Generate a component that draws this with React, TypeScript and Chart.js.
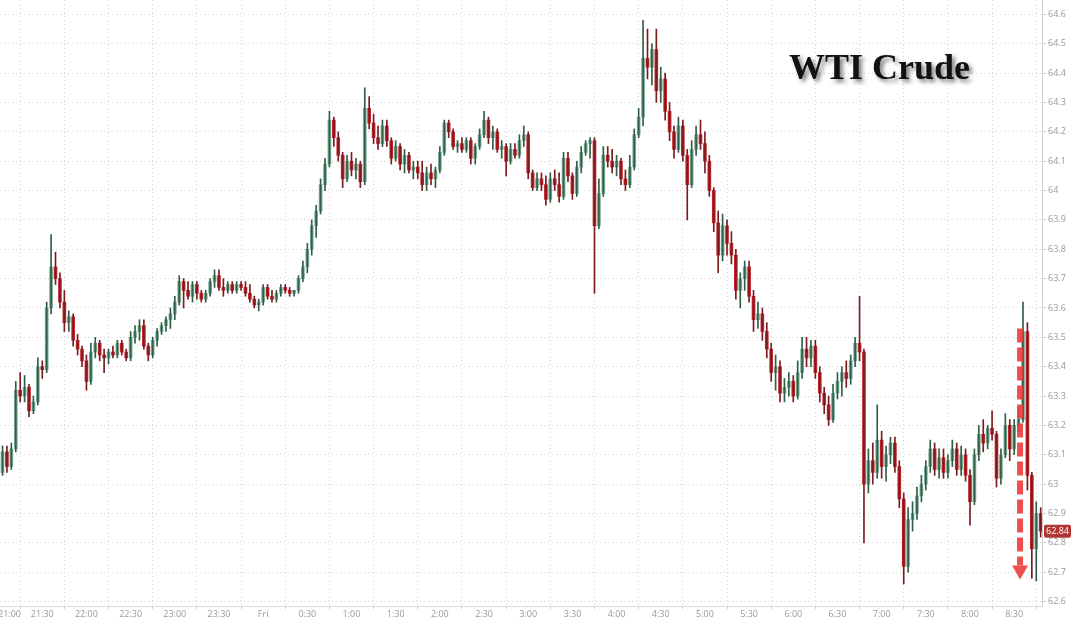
import React, { useEffect, useRef } from 'react';
import { Chart, registerables } from 'chart.js';

Chart.register(...registerables);

// ---- Data (3-minute candles starting 21:00) ----
const START_MINUTE = 0; // 21:00
const BAR_MINUTES = 3;

const OPEN = [
  63.06, 63.04, 63.11, 63.06, 63.12, 63.32, 63.30, 63.33, 63.25, 63.28,
  63.40, 63.39, 63.60, 63.74, 63.70, 63.62, 63.55, 63.57, 63.49, 63.46,
  63.42, 63.35, 63.45, 63.48, 63.44, 63.43, 63.45, 63.44, 63.48, 63.45,
  63.43, 63.50, 63.52, 63.54, 63.47, 63.44, 63.49, 63.52, 63.54, 63.56,
  63.58, 63.62, 63.69, 63.66, 63.64, 63.68, 63.65, 63.63, 63.65, 63.69,
  63.71, 63.67, 63.66, 63.68, 63.66, 63.68, 63.67, 63.65, 63.63, 63.61,
  63.62, 63.67, 63.64, 63.63, 63.65, 63.67, 63.66, 63.65, 63.66, 63.70,
  63.74, 63.80, 63.88, 63.93, 64.02, 64.09, 64.24, 64.18, 64.12, 64.04,
  64.10, 64.07, 64.09, 64.03, 64.28, 64.23, 64.18, 64.16, 64.22, 64.17,
  64.11, 64.15, 64.09, 64.12, 64.07, 64.08, 64.06, 64.02, 64.06, 64.04,
  64.07, 64.13, 64.23, 64.20, 64.15, 64.16, 64.14, 64.17, 64.11, 64.15,
  64.19, 64.24, 64.18, 64.20, 64.14, 64.15, 64.10, 64.14, 64.12, 64.17,
  64.19, 64.06, 64.01, 64.04, 64.02, 63.97, 64.04, 64.02, 63.98, 64.11,
  64.05, 63.99, 64.08, 64.13, 64.16, 64.17, 63.88, 63.99, 64.12, 64.10,
  64.08, 64.10, 64.04, 64.02, 64.08, 64.19, 64.25, 64.45, 64.42, 64.48,
  64.34, 64.38, 64.27, 64.20, 64.14, 64.22, 64.12, 64.02, 64.14, 64.19,
  64.16, 64.10, 64.00, 63.89, 63.78, 63.88, 63.82, 63.78, 63.66, 63.70,
  63.74, 63.64, 63.56, 63.58, 63.52, 63.46, 63.38, 63.40, 63.31, 63.33,
  63.35, 63.30, 63.38, 63.46, 63.43, 63.47, 63.38, 63.31, 63.27, 63.22,
  63.31, 63.35, 63.38, 63.36, 63.42, 63.48, 63.45, 63.00, 63.08, 63.04,
  63.15, 63.06, 63.10, 63.14, 63.06, 62.95, 62.72, 62.88, 62.90, 62.96,
  63.00, 63.06, 63.12, 63.05, 63.09, 63.04, 63.08, 63.12, 63.05, 63.10,
  63.03, 62.94, 63.10, 63.17, 63.14, 63.19, 63.17, 63.02, 63.10, 63.20,
  63.12, 63.20, 63.22, 63.52, 63.03, 62.78, 62.90,
];

const HIGH = [
  63.10, 63.13, 63.13, 63.14, 63.35, 63.38, 63.37, 63.34, 63.30, 63.43,
  63.42, 63.62, 63.85, 63.79, 63.72, 63.66, 63.59, 63.58, 63.51, 63.47,
  63.44, 63.48, 63.50, 63.49, 63.46, 63.46, 63.47, 63.49, 63.49, 63.46,
  63.52, 63.54, 63.56, 63.56, 63.48, 63.50, 63.53, 63.55, 63.57, 63.60,
  63.64, 63.71, 63.70, 63.69, 63.69, 63.69, 63.66, 63.66, 63.70, 63.73,
  63.73, 63.70, 63.69, 63.69, 63.69, 63.69, 63.69, 63.68, 63.64, 63.63,
  63.68, 63.68, 63.66, 63.66, 63.68, 63.68, 63.67, 63.66, 63.71, 63.76,
  63.82, 63.90, 63.95, 64.04, 64.11, 64.27, 64.25, 64.20, 64.13, 64.12,
  64.13, 64.11, 64.10, 64.35, 64.32, 64.26, 64.22, 64.24, 64.24, 64.18,
  64.17, 64.16, 64.14, 64.13, 64.10, 64.10, 64.10, 64.08, 64.09, 64.08,
  64.15, 64.24, 64.24, 64.21, 64.17, 64.18, 64.18, 64.18, 64.16, 64.21,
  64.27, 64.25, 64.22, 64.21, 64.17, 64.16, 64.16, 64.16, 64.19, 64.22,
  64.20, 64.07, 64.06, 64.06, 64.05, 64.06, 64.07, 64.06, 64.13, 64.13,
  64.06, 64.10, 64.15, 64.17, 64.18, 64.18, 64.04, 64.15, 64.15, 64.14,
  64.12, 64.11, 64.07, 64.12, 64.21, 64.28, 64.58, 64.55, 64.50, 64.55,
  64.42, 64.40, 64.30, 64.22, 64.25, 64.24, 64.14, 64.17, 64.22, 64.24,
  64.20, 64.12, 64.01, 63.93, 63.92, 63.90, 63.86, 63.80, 63.72, 63.76,
  63.76, 63.66, 63.62, 63.60, 63.55, 63.48, 63.44, 63.42, 63.36, 63.38,
  63.37, 63.42, 63.50, 63.50, 63.49, 63.49, 63.40, 63.33, 63.30, 63.34,
  63.38, 63.40, 63.42, 63.44, 63.50, 63.64, 63.46, 63.12, 63.14, 63.27,
  63.18, 63.13, 63.16, 63.16, 63.08, 62.97, 62.92, 62.94, 62.99, 63.03,
  63.08, 63.15, 63.14, 63.12, 63.12, 63.10, 63.15, 63.14, 63.13, 63.12,
  63.05, 63.12, 63.20, 63.22, 63.20, 63.25, 63.18, 63.12, 63.24, 63.22,
  63.22, 63.26, 63.62, 63.55, 63.04, 62.94, 62.92,
];

const LOW = [
  63.02, 63.03, 63.04, 63.05, 63.11, 63.28, 63.28, 63.23, 63.24, 63.27,
  63.36, 63.38, 63.58, 63.68, 63.60, 63.52, 63.52, 63.47, 63.44, 63.40,
  63.32, 63.34, 63.43, 63.42, 63.38, 63.41, 63.43, 63.43, 63.44, 63.42,
  63.42, 63.48, 63.49, 63.46, 63.42, 63.43, 63.47, 63.51, 63.52, 63.53,
  63.56, 63.61, 63.60, 63.63, 63.62, 63.63, 63.62, 63.62, 63.64, 63.67,
  63.66, 63.64, 63.65, 63.65, 63.65, 63.66, 63.64, 63.62, 63.60, 63.59,
  63.61, 63.63, 63.62, 63.62, 63.64, 63.65, 63.64, 63.64, 63.65, 63.69,
  63.72, 63.78, 63.84, 63.92, 64.00, 64.08, 64.15, 64.10, 64.01, 64.03,
  64.05, 64.04, 64.01, 64.02, 64.21, 64.16, 64.14, 64.15, 64.15, 64.09,
  64.10, 64.07, 64.06, 64.06, 64.04, 64.04, 64.00, 64.00, 64.02, 64.01,
  64.06, 64.12, 64.18, 64.14, 64.13, 64.13, 64.13, 64.09, 64.09, 64.14,
  64.18, 64.16, 64.14, 64.13, 64.11, 64.05, 64.09, 64.11, 64.11, 64.15,
  64.04, 64.00, 64.00, 64.00, 63.95, 63.96, 64.00, 63.96, 63.97, 64.03,
  63.97, 63.98, 64.06, 64.12, 64.11, 63.65, 63.87, 63.98, 64.08, 64.06,
  64.05, 64.02, 64.00, 64.01, 64.07, 64.18, 64.22, 64.38, 64.36, 64.30,
  64.30, 64.24, 64.17, 64.11, 64.13, 64.10, 63.90, 64.01, 64.12, 64.14,
  64.06, 63.98, 63.86, 63.72, 63.76, 63.78, 63.75, 63.63, 63.60, 63.66,
  63.62, 63.52, 63.53, 63.49, 63.43, 63.35, 63.32, 63.28, 63.28, 63.30,
  63.28, 63.29, 63.36, 63.40, 63.40, 63.36, 63.28, 63.24, 63.20, 63.21,
  63.29, 63.30, 63.33, 63.34, 63.40, 63.42, 62.80, 62.97, 63.00, 63.02,
  63.02, 63.01, 63.07, 63.04, 62.92, 62.66, 62.70, 62.84, 62.88, 62.94,
  62.98, 63.04, 63.03, 63.02, 63.02, 63.02, 63.06, 63.03, 63.03, 63.01,
  62.86, 62.93, 63.08, 63.11, 63.12, 63.15, 62.99, 63.00, 63.09, 63.08,
  63.10, 63.18, 63.21, 62.98, 62.68, 62.67, 62.82,
];

const CLOSE = [
  63.04, 63.11, 63.06, 63.12, 63.32, 63.30, 63.33, 63.25, 63.28, 63.40,
  63.39, 63.60, 63.74, 63.70, 63.62, 63.55, 63.57, 63.49, 63.46, 63.42,
  63.35, 63.45, 63.48, 63.44, 63.43, 63.45, 63.44, 63.48, 63.45, 63.43,
  63.50, 63.52, 63.54, 63.47, 63.44, 63.49, 63.52, 63.54, 63.56, 63.58,
  63.62, 63.69, 63.66, 63.64, 63.68, 63.65, 63.63, 63.65, 63.69, 63.71,
  63.67, 63.66, 63.68, 63.66, 63.68, 63.67, 63.65, 63.63, 63.61, 63.62,
  63.67, 63.64, 63.63, 63.65, 63.67, 63.66, 63.65, 63.66, 63.70, 63.74,
  63.80, 63.88, 63.93, 64.02, 64.09, 64.24, 64.18, 64.12, 64.04, 64.10,
  64.07, 64.09, 64.03, 64.28, 64.23, 64.18, 64.16, 64.22, 64.17, 64.11,
  64.15, 64.09, 64.12, 64.07, 64.08, 64.06, 64.02, 64.06, 64.04, 64.07,
  64.13, 64.23, 64.20, 64.15, 64.16, 64.14, 64.17, 64.11, 64.15, 64.19,
  64.24, 64.18, 64.20, 64.14, 64.15, 64.10, 64.14, 64.12, 64.17, 64.19,
  64.06, 64.01, 64.04, 64.02, 63.97, 64.04, 64.02, 63.98, 64.11, 64.05,
  63.99, 64.08, 64.13, 64.16, 64.17, 63.88, 63.99, 64.12, 64.10, 64.08,
  64.10, 64.04, 64.02, 64.08, 64.19, 64.25, 64.45, 64.42, 64.48, 64.34,
  64.38, 64.27, 64.20, 64.14, 64.22, 64.12, 64.02, 64.14, 64.19, 64.16,
  64.10, 64.00, 63.89, 63.78, 63.88, 63.82, 63.78, 63.66, 63.70, 63.74,
  63.64, 63.56, 63.58, 63.52, 63.46, 63.38, 63.40, 63.31, 63.33, 63.35,
  63.30, 63.38, 63.46, 63.43, 63.47, 63.38, 63.31, 63.27, 63.22, 63.31,
  63.35, 63.38, 63.36, 63.42, 63.48, 63.45, 63.00, 63.08, 63.04, 63.15,
  63.06, 63.10, 63.14, 63.06, 62.95, 62.72, 62.88, 62.90, 62.96, 63.00,
  63.06, 63.12, 63.05, 63.09, 63.04, 63.08, 63.12, 63.05, 63.10, 63.03,
  62.94, 63.10, 63.17, 63.14, 63.19, 63.17, 63.02, 63.10, 63.20, 63.12,
  63.20, 63.22, 63.52, 63.03, 62.78, 62.90, 62.84,
];

const X_TICK_MINUTES = [0, 30, 60, 90, 120, 150, 180, 210, 240, 270, 300, 330, 360, 390, 420, 450, 480, 510, 540, 570, 600, 630, 660, 690];
const X_TICK_LABELS = ['21:00', '21:30', '22:00', '22:30', '23:00', '23:30', 'Fri', '0:30', '1:00', '1:30', '2:00', '2:30', '3:00', '3:30', '4:00', '4:30', '5:00', '5:30', '6:00', '6:30', '7:00', '7:30', '8:00', '8:30'];
const Y_TICKS = [62.6, 62.7, 62.8, 62.9, 63.0, 63.1, 63.2, 63.3, 63.4, 63.5, 63.6, 63.7, 63.8, 63.9, 64.0, 64.1, 64.2, 64.3, 64.4, 64.5, 64.6];

const LAST_PRICE = 62.84;
const TITLE = 'WTI Crude';
const ARROW_MINUTE = 694;
const ARROW_FROM = 63.53;
const ARROW_TO = 62.675;

// ---- Layout / style ----
const W = 1073;
const H = 621;
const X_MIN = 1.3;
const X_MAX = 708.9;
const Y_MIN = 62.585;
const Y_MAX = 64.649;

const UP_BODY = '#7aab93';
const UP_WICK = '#2f5f48';
const DOWN_BODY = '#c3262d';
const DOWN_WICK = '#7c1a1f';
const LABEL_COLOR = '#999999';
const GRID_COLOR = '#d4d4d4';
const FONT = "'Open Sans', 'Noto Sans', sans-serif";

const overlayPlugin = {
  id: 'overlay',
  afterDatasetsDraw(chart: any) {
    const ctx = chart.ctx;
    const xs = chart.scales.x;
    const ys = chart.scales.y;
    const ax = xs.getPixelForValue(ARROW_MINUTE);
    const y1 = ys.getPixelForValue(ARROW_FROM);
    const yTip = ys.getPixelForValue(ARROW_TO);
    const headH = 14;
    ctx.save();
    ctx.strokeStyle = 'rgba(235, 60, 60, 0.9)';
    ctx.lineWidth = 6;
    ctx.setLineDash([14, 5]);
    ctx.beginPath();
    ctx.moveTo(ax, y1);
    ctx.lineTo(ax, yTip - headH);
    ctx.stroke();
    ctx.setLineDash([]);
    ctx.fillStyle = 'rgba(235, 60, 60, 0.9)';
    ctx.beginPath();
    ctx.moveTo(ax - 8, yTip - headH);
    ctx.lineTo(ax + 8, yTip - headH);
    ctx.lineTo(ax, yTip);
    ctx.closePath();
    ctx.fill();
    ctx.restore();
  },
  afterDraw(chart: any) {
    const ctx = chart.ctx;
    const xs = chart.scales.x;
    const ys = chart.scales.y;
    const area = chart.chartArea;
    ctx.save();
    // x labels
    ctx.font = `9px ${FONT}`;
    ctx.fillStyle = LABEL_COLOR;
    ctx.textBaseline = 'middle';
    ctx.textAlign = 'center';
    X_TICK_MINUTES.forEach((m, i) => {
      const label = X_TICK_LABELS[i];
      let x = xs.getPixelForValue(m);
      const w = ctx.measureText(label).width;
      if (x - w / 2 < -2) x = w / 2 - 2;
      ctx.fillText(label, x, area.bottom + 8.5);
    });
    // last price tag
    const py = ys.getPixelForValue(LAST_PRICE);
    const tx = area.right + 2;
    const tw = 27;
    const th = 13;
    ctx.fillStyle = '#b33636';
    ctx.beginPath();
    if (ctx.roundRect) ctx.roundRect(tx, py - th / 2, tw, th, 2);
    else ctx.rect(tx, py - th / 2, tw, th);
    ctx.fill();
    ctx.fillStyle = '#ffffff';
    ctx.textAlign = 'center';
    ctx.fillText(LAST_PRICE.toFixed(2), tx + tw / 2, py + 0.5);
    // title
    ctx.font = `bold 36px 'Liberation Serif', 'Times New Roman', serif`;
    ctx.textAlign = 'left';
    ctx.textBaseline = 'alphabetic';
    ctx.shadowColor = 'rgba(0,0,0,0.5)';
    ctx.shadowOffsetX = 3;
    ctx.shadowOffsetY = 3;
    ctx.shadowBlur = 4;
    ctx.fillStyle = '#111111';
    ctx.fillText(TITLE, 789, 78.5);
    ctx.restore();
  },
};

export default function App() {
  const canvasRef = useRef<HTMLCanvasElement | null>(null);

  useEffect(() => {
    const canvas = canvasRef.current;
    if (!canvas) return;
    const times = OPEN.map((_, i) => START_MINUTE + i * BAR_MINUTES);
    const isUp = OPEN.map((o, i) => CLOSE[i] >= o);

    const chart = new Chart(canvas, {
      type: 'bar',
      data: {
        datasets: [
          {
            label: 'body',
            data: times.map((t, i) => ({ x: t, y: [OPEN[i], CLOSE[i]] })) as any,
            backgroundColor: isUp.map((u) => (u ? UP_BODY : DOWN_BODY)),
            borderWidth: 0,
            barThickness: 3,
            minBarLength: 1,
            grouped: false,
            order: 2,
          } as any,
          {
            label: 'wick',
            data: times.map((t, i) => ({ x: t, y: [LOW[i], HIGH[i]] })) as any,
            backgroundColor: isUp.map((u) => (u ? UP_WICK : DOWN_WICK)),
            borderWidth: 0,
            barThickness: 1,
            grouped: false,
            order: 1,
          } as any,
        ],
      },
      options: {
        responsive: false,
        animation: false,
        devicePixelRatio: 1,
        layout: { padding: 0 },
        plugins: {
          legend: { display: false },
          tooltip: { enabled: false },
        },
        scales: {
          x: {
            type: 'linear',
            min: X_MIN,
            max: X_MAX,
            offset: false,
            position: 'bottom',
            afterBuildTicks: (scale: any) => {
              scale.ticks = X_TICK_MINUTES.filter((m) => m >= X_MIN && m <= X_MAX).map((v) => ({ value: v }));
            },
            afterFit: (scale: any) => {
              scale.height = 15;
              scale.paddingLeft = 0;
              scale.paddingRight = 0;
            },
            ticks: { display: false },
            grid: {
              color: GRID_COLOR,
              lineWidth: 1,
              drawTicks: true,
              tickLength: 3,
              tickColor: '#cccccc',
            },
            border: { display: true, color: '#d8d8d8', dash: [1, 3] },
          } as any,
          y: {
            type: 'linear',
            position: 'right',
            min: Y_MIN,
            max: Y_MAX,
            afterBuildTicks: (scale: any) => {
              scale.ticks = Y_TICKS.map((v) => ({ value: v }));
            },
            afterFit: (scale: any) => {
              scale.width = 31;
              scale.paddingTop = 0;
              scale.paddingBottom = 0;
            },
            ticks: {
              color: LABEL_COLOR,
              font: { size: 9, family: FONT },
              padding: 2,
              callback: (v: any) => String(Number(Number(v).toFixed(1))),
            },
            grid: {
              color: GRID_COLOR,
              lineWidth: 1,
              drawTicks: true,
              tickLength: 4,
              tickColor: '#cccccc',
            },
            border: { display: true, color: '#cfcfcf', dash: [1, 3] },
          } as any,
        },
      },
      plugins: [overlayPlugin],
    });

    return () => {
      chart.destroy();
    };
  }, []);

  return (
    <div style={{ position: 'absolute', left: 0, top: 0, width: W, height: H, background: '#ffffff' }}>
      <canvas ref={canvasRef} width={W} height={H} style={{ display: 'block' }} />
    </div>
  );
}
